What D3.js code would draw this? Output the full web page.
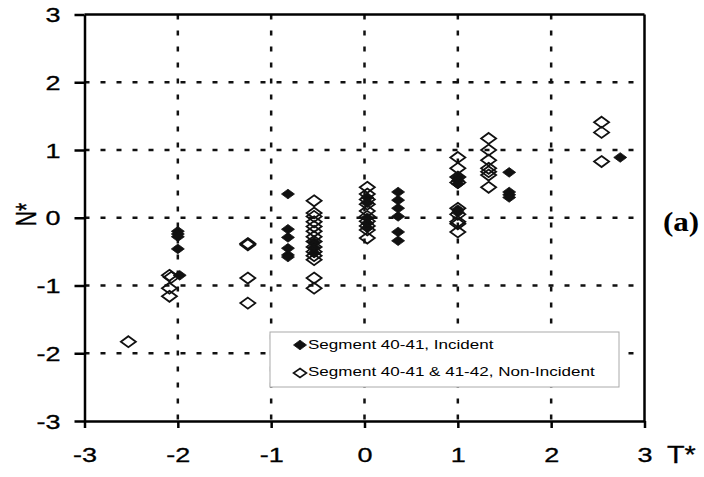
<!DOCTYPE html>
<html>
<head>
<meta charset="utf-8">
<script src="https://cdn.jsdelivr.net/npm/d3@7"></script>
<style>
  body { margin: 0; background: #fff; }
  text { font-family: "Liberation Sans", Arial, sans-serif; fill: #000; }
</style>
</head>
<body>
<div id="chart"></div>
<script>
// ---- data ----
const incidentT = [-2.0, -2.0, -2.0, -2.0, -1.98,
  -0.82, -0.82, -0.82, -0.82, -0.82, -0.82,
  -0.54, -0.54, -0.54,
  0.03, 0.03, 0.03, 0.03, 0.03,
  0.36, 0.36, 0.36, 0.36, 0.36, 0.36,
  1.0, 1.0, 1.0, 1.0, 1.0,
  1.55, 1.55, 1.55, 1.55,
  2.74];
const incidentN = [-0.20, -0.24, -0.28, -0.46, -0.85,
  0.35, -0.17, -0.29, -0.45, -0.55, -0.58,
  -0.36, -0.44, -0.52,
  0.30, 0.22, 0.00, -0.08, -0.15,
  0.38, 0.26, 0.14, 0.02, -0.21, -0.34,
  0.60, 0.55, 0.50, 0.12, 0.08,
  0.67, 0.38, 0.34, 0.30,
  0.89];

const nonIncT = [-2.53,
  -2.09, -2.07, -2.09, -2.09,
  -1.25, -1.25, -1.25, -1.25,
  -0.54, -0.54, -0.54, -0.54, -0.54, -0.54, -0.54, -0.54, -0.54, -0.54, -0.54, -0.54, -0.54, -0.54,
  0.03, 0.03, 0.03, 0.03, 0.03, 0.03, 0.03, 0.03, 0.03, 0.03,
  1.0, 1.0, 1.0, 1.0, 1.0, 1.0, 1.0, 1.0, 1.0,
  1.33, 1.33, 1.33, 1.33, 1.33, 1.33, 1.33,
  2.54, 2.54, 2.54];
const nonIncN = [-1.83,
  -0.85, -0.88, -1.04, -1.16,
  -0.38, -0.40, -0.89, -1.26,
  0.25, 0.07, 0.02, -0.06, -0.13, -0.20, -0.28, -0.35, -0.43, -0.50, -0.56, -0.62, -0.89, -1.04,
  0.45, 0.35, 0.27, 0.20, 0.10, 0.02, -0.05, -0.12, -0.18, -0.30,
  0.89, 0.73, 0.60, 0.52, 0.14, 0.05, -0.06, -0.09, -0.21,
  1.17, 1.00, 0.85, 0.73, 0.68, 0.63, 0.45,
  1.41, 1.26, 0.83];

const tickValues = [-3, -2, -1, 0, 1, 2, 3];
const gridValues = [-2, -1, 0, 1, 2];
const legendLabels = ["Segment 40-41, Incident", "Segment 40-41 & 41-42, Non-Incident"];

// ---- layout ----
const W = 704, H = 477;
const x = d3.scaleLinear().domain([-3, 3]).range([84.5, 644.5]);
const y = d3.scaleLinear().domain([-3, 3]).range([421, 14.5]);
const stretch = 1.35; // the picture is stretched sideways, text too

const svg = d3.select('#chart').append('svg')
  .attr('width', W).attr('height', H);

// dotted grid
const grid = svg.append('g').attr('stroke', '#111').attr('stroke-width', 2.5)
  .attr('stroke-dasharray', '5,11');
grid.selectAll('.vg').data(gridValues).enter().append('line')
  .attr('x1', d => x(d)).attr('x2', d => x(d))
  .attr('y1', y(3)).attr('y2', y(-3));
grid.selectAll('.hg').data(gridValues).enter().append('line')
  .attr('y1', d => y(d)).attr('y2', d => y(d))
  .attr('x1', x(-3)).attr('x2', x(3));

// box top and right
svg.append('line').attr('x1', x(-3)).attr('x2', x(3)).attr('y1', y(3)).attr('y2', y(3))
  .attr('stroke', '#000').attr('stroke-width', 2.5);
svg.append('line').attr('x1', x(3)).attr('x2', x(3)).attr('y1', y(3)).attr('y2', y(-3))
  .attr('stroke', '#000').attr('stroke-width', 2.5);

// axes
const yAxis = svg.append('g').attr('transform', `translate(${x(-3)},0)`)
  .call(d3.axisLeft(y).tickValues(tickValues).tickSize(10).tickSizeOuter(0).tickFormat(d3.format('d')));
const xAxis = svg.append('g').attr('transform', `translate(0,${y(-3)})`)
  .call(d3.axisBottom(x).tickValues(tickValues).tickSize(7).tickSizeOuter(0).tickFormat(d3.format('d')));

[yAxis, xAxis].forEach(a => {
  a.select('.domain').attr('stroke', '#000').attr('stroke-width', 2.5);
  a.selectAll('.tick line').attr('stroke', '#000').attr('stroke-width', 2.5);
  a.selectAll('.tick text').attr('font-family', '"Liberation Sans", Arial, sans-serif')
    .attr('font-size', 20).attr('fill', '#000')
    .attr('stroke', '#000').attr('stroke-width', 0.3)
    .text(d => d < 0 ? '-' + Math.abs(d) : d);
});
yAxis.selectAll('.tick text').attr('x', -24 / stretch).attr('dy', '0.36em')
  .attr('transform', `scale(${stretch},1)`);
xAxis.selectAll('.tick text').attr('y', 41).attr('dy', 0)
  .attr('transform', `scale(${stretch},1)`);

// axis titles
svg.append('text').attr('transform', `translate(36,214.5) scale(1.4,1) rotate(-90)`)
  .attr('text-anchor', 'middle').attr('font-size', 21)
  .attr('stroke', '#000').attr('stroke-width', 0.3).text('N*');
svg.append('text').attr('transform', `translate(667,463) scale(1.2,1)`)
  .attr('font-size', 24).attr('stroke', '#000').attr('stroke-width', 0.3).text('T*');
svg.append('text').attr('transform', `translate(663,231) scale(1.15,1)`)
  .style('font-family', '"Liberation Serif", "Times New Roman", serif')
  .attr('font-weight', 'bold').attr('font-size', 27).text('(a)');

// markers
const diamond = (w, h) => `M0,${-h}L${w},0L0,${h}L${-w},0Z`;
const incident = incidentT.map((t, i) => ({ t: t, n: incidentN[i] }));
const nonInc = nonIncT.map((t, i) => ({ t: t, n: nonIncN[i] }));

svg.append('g').selectAll('path').data(incident).enter().append('path')
  .attr('transform', d => `translate(${x(d.t)},${y(d.n)})`)
  .attr('d', diamond(6.5, 4.8)).attr('fill', '#111').attr('stroke', '#111').attr('stroke-width', 0.8);

svg.append('g').selectAll('path').data(nonInc).enter().append('path')
  .attr('transform', d => `translate(${x(d.t)},${y(d.n)})`)
  .attr('d', diamond(7.5, 5.5)).attr('fill', 'none').attr('stroke', '#111').attr('stroke-width', 1.8);

// legend
const leg = svg.append('g');
leg.append('rect').attr('x', 270).attr('y', 332).attr('width', 349).attr('height', 55)
  .attr('fill', '#fff').attr('stroke', '#aaa').attr('stroke-width', 1);
leg.append('path').attr('transform', 'translate(300,345)').attr('d', diamond(6.5, 4.8))
  .attr('fill', '#111').attr('stroke', '#111').attr('stroke-width', 0.8);
leg.append('path').attr('transform', 'translate(300,373)').attr('d', diamond(6.5, 4.5))
  .attr('fill', 'none').attr('stroke', '#111').attr('stroke-width', 1.6);
leg.selectAll('text').data(legendLabels).enter().append('text')
  .attr('transform', (d, i) => `translate(308,${349 + i * 27}) scale(1.42,1)`)
  .attr('font-size', 12).text(d => d);
</script>
</body>
</html>
